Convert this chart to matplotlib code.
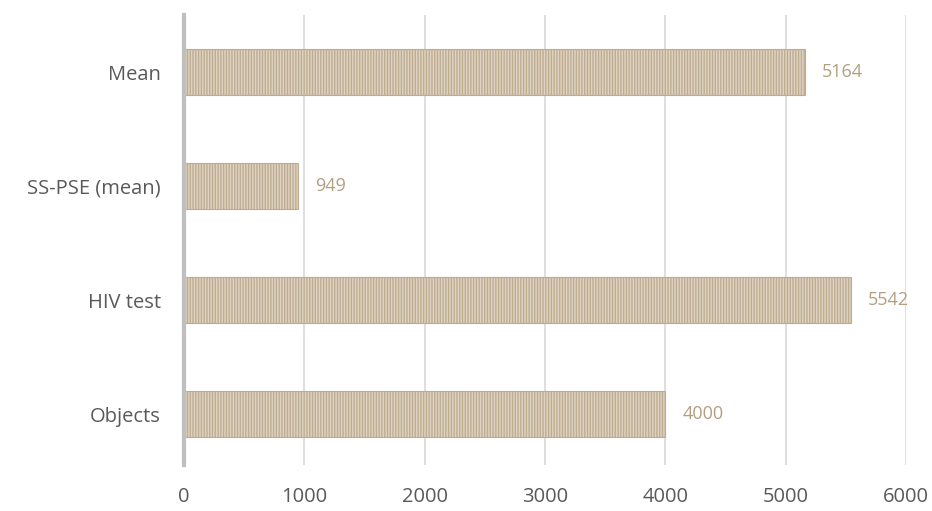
import matplotlib
matplotlib.use("Agg")
import matplotlib.pyplot as plt

categories = ["Mean", "SS-PSE (mean)", "HIV test", "Objects"]
values = [5164, 949, 5542, 4000]
xticks = [0, 1000, 2000, 3000, 4000, 5000, 6000]

plt.rcParams['font.family'] = ['Open Sans', 'DejaVu Sans']
plt.rcParams['hatch.linewidth'] = 1.0

fig = plt.figure(figsize=(9.32, 5.11), dpi=100)
ax = fig.add_axes([184/932, 1-465/511, (906-184)/932, 450/511])

pos = list(range(len(categories)))
ax.barh(pos, values, height=0.4, color="#dfd4c3", edgecolor="#bfad92",
        hatch="|" * 6, linewidth=0, zorder=3)
ax.barh(pos, values, height=0.4, fill=False, edgecolor="#bcab90",
        linewidth=0.8, zorder=4)

for p, v in zip(pos, values):
    ax.text(v + 140, p, str(v), va="center", ha="left", color="#b39f80",
            fontsize=13)

ax.set_ylim(3.447, -0.5)
ax.set_xlim(0, 6000)
ax.set_xticks(xticks)
ax.set_xticklabels([str(t) for t in xticks])
ax.set_yticks(pos)
ax.set_yticklabels(categories)
ax.tick_params(axis='both', length=0, colors="#595959")
ax.tick_params(axis='x', pad=16, labelsize=14.5)
ax.tick_params(axis='y', pad=16.5, labelsize=14.5)
ax.xaxis.grid(True, color="#d9d9d9", linewidth=1.2, zorder=0)
for s in ["top", "right", "bottom"]:
    ax.spines[s].set_visible(False)
ax.spines["left"].set_color("#bfbfbf")
ax.spines["left"].set_linewidth(3)
ax.spines["left"].set_zorder(5)

fig.savefig("out.png", dpi=100)
